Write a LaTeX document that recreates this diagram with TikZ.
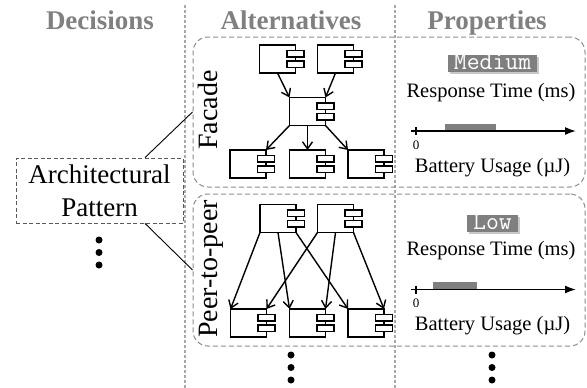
\documentclass[tikz,border=0pt]{standalone}
\usepackage{fontspec}
\setmainfont{Liberation Serif}
\usetikzlibrary{arrows.meta,shadows}

\definecolor{hdrgray}{HTML}{808080}
\definecolor{boxgray}{HTML}{8C8C8C}
\definecolor{sepgray}{HTML}{A8A8A8}
\definecolor{tagfill}{HTML}{7F7F7F}
\definecolor{tagshadow}{HTML}{C8C8C8}

\tikzset{
  hdr/.style={font=\fontsize{27}{30}\selectfont\bfseries, text=hdrgray, anchor=base, inner sep=0pt},
  sep/.style={draw=sepgray, line width=1.4pt, dash pattern=on 3pt off 2pt},
  altbox/.style={draw=boxgray, line width=1pt, dash pattern=on 5pt off 3pt, rounded corners=15pt,
    minimum width=392pt, inner sep=0pt},
  decbox/.style={draw=black!65, line width=0.8pt, dash pattern=on 4pt off 2.5pt, minimum width=167pt,
    minimum height=65pt, align=center, font=\fontsize{27}{33}\selectfont, inner sep=0pt},
  alttitle/.style={rotate=90, anchor=base, font=\fontsize{28}{30}\selectfont, inner sep=0pt},
  comp/.style={draw, line width=1.6pt, minimum width=36pt, minimum height=28pt, inner sep=0pt,
    outer sep=0pt, fill=white},
  comptab/.style={draw, line width=1.4pt, fill=white},
  flow/.style={line width=1.4pt, -{Straight Barb[length=7pt,width=10pt,line width=1.4pt]}},
  link/.style={line width=0.9pt},
  tag/.style={fill=tagfill, text=white, font=\ttfamily\fontsize{25}{25}\selectfont, inner xsep=6pt,
    inner ysep=0pt, minimum height=17pt, text height=12.5pt, text depth=0.5pt,
    drop shadow={shadow xshift=2pt, shadow yshift=-2pt, fill=tagshadow, opacity=1}},
  prop/.style={font=\fontsize{20.5}{22}\selectfont, anchor=base, inner sep=0pt},
  axisline/.style={line width=1.6pt, -{Latex[length=11pt,width=8pt]}},
  tick/.style={line width=1.4pt},
  bar/.style={fill=tagfill},
  zero/.style={font=\fontsize{13}{13}\selectfont, inner sep=0pt},
  ellip/.style={fill=black},
}

% component icon: main box plus two tabs on its right edge
\newcommand\component[2]{%
  \node[comp] (#1) at (#2) {};
  \draw[comptab] ([xshift=-8.5pt,yshift=2pt]#1.east) rectangle ([xshift=8.5pt,yshift=8.5pt]#1.east);
  \draw[comptab] ([xshift=-8.5pt,yshift=-2pt]#1.east) rectangle ([xshift=8.5pt,yshift=-8.5pt]#1.east);
}

\begin{document}
\begin{tikzpicture}[x=1pt,y=-1pt]
\useasboundingbox (0,0) rectangle (587,388);

% column separators
\coordinate (s1t) at (185,5);   \coordinate (s1b) at (185,388);
\coordinate (s2t) at (395,5);   \coordinate (s2b) at (395,388);
\draw[sep] (s1t) -- (s1b);
\draw[sep] (s2t) -- (s2b);

% column headers
\node[hdr] (hdec)  at (100,29) {Decisions};
\node[hdr] (halt)  at (291,29) {Alternatives};
\node[hdr] (hprop) at (487,29) {Properties};

% alternative frames
\node[altbox, minimum height=150pt] (fbox) at (389,112) {};
\node[altbox, minimum height=152pt] (pbox) at (389,270) {};

% decision
\node[decbox] (arch) at (99.5,190.5) {Architectural\\Pattern};
\draw[link] ([xshift=45.5pt]arch.north) -- (fbox.west);
\draw[link] ([xshift=45.5pt]arch.south) -- (pbox.west);

\foreach \yy in {240,252.5,265} \fill[ellip] (99,\yy) circle (3.5pt);

% alternative titles
\node[alttitle] (tfac) at (217,110) {Facade};
\node[alttitle] (tp2p) at (217,269) {Peer-to-peer};

% Facade structure
\component{fa}{277.5,59}
\component{fb}{335.5,59}
\component{fc}{307.5,111.5}
\component{fd}{248,164}
\component{fe}{307.5,164}
\component{ff}{366,164}
\draw[flow] (fa.south) -- (fc.north west);
\draw[flow] (fb.south) -- (fc.north east);
\draw[flow] (fc.south west) -- (fd.north east);
\draw[flow] (fc.south) -- (fe.north);
\draw[flow] (fc.south east) -- (ff.north west);

% Peer-to-peer structure
\component{pa}{278,218.5}
\component{pb}{335.5,218.5}
\component{pd}{248.5,323}
\component{pe}{307.5,323}
\component{pf}{366,323}
\draw[flow] (pa.south west) -- (pd.north west);
\draw[flow] (pa.south) -- (pe.north west);
\draw[flow] (pa.south east) -- (pf.north west);
\draw[flow] (pb.south west) -- (pd.north east);
\draw[flow] (pb.south) -- (pe.north east);
\draw[flow] (pb.south east) -- (pf.north east);

% properties of Facade
\node[tag] (tmed) at (492.5,63.5) {Medium};
\node[prop] (rt1) at (491,97) {Response Time (ms)};
\coordinate (a1s) at (411,131); \coordinate (a1e) at (576,131);
\fill[bar] (445,123.5) rectangle (496,131);
\draw[axisline] (a1s) -- (a1e);
\coordinate (t1a) at (416,127); \coordinate (t1b) at (416,135);
\draw[tick] (t1a) -- (t1b);
\node[zero] (z1) at (416,145) {0};
\node[prop] (bu1) at (492.5,172) {Battery Usage (µJ)};

% properties of Peer-to-peer
\node[tag] (tlow) at (492.5,223.5) {Low};
\node[prop] (rt2) at (491,255) {Response Time (ms)};
\coordinate (a2s) at (411,289.5); \coordinate (a2e) at (576,289.5);
\fill[bar] (433,282) rectangle (477,289.5);
\draw[axisline] (a2s) -- (a2e);
\coordinate (t2a) at (416,285.5); \coordinate (t2b) at (416,293.5);
\draw[tick] (t2a) -- (t2b);
\node[zero] (z2) at (416,303.5) {0};
\node[prop] (bu2) at (492.5,330) {Battery Usage (µJ)};

% further alternatives
\foreach \yy in {355,367.5,380} {
  \fill[ellip] (291,\yy) circle (3.5pt);
  \fill[ellip] (492,\yy) circle (3.5pt);
}
\end{tikzpicture}
\end{document}
